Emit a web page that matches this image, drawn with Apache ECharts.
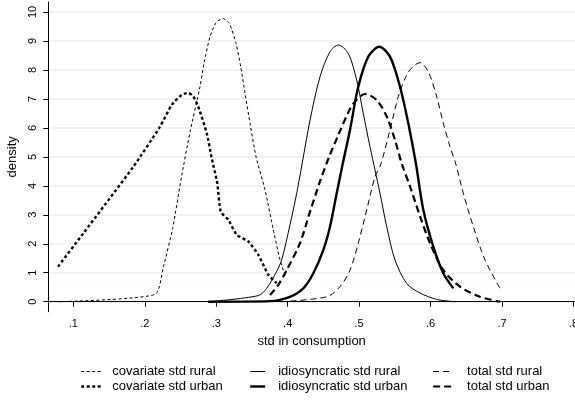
<!DOCTYPE html>
<html>
<head>
<meta charset="utf-8">
<script src="https://cdn.jsdelivr.net/npm/echarts@6/dist/echarts.min.js"></script>
<style>html,body{margin:0;padding:0;background:#fff;}#c{width:575px;height:407px;}</style>
</head>
<body>
<div id="c"></div>
<script>
const xTickValues = [0.1, 0.2, 0.3, 0.4, 0.5, 0.6, 0.7, 0.8];
const xTickLabels = ['.1', '.2', '.3', '.4', '.5', '.6', '.7', '.8'];
const yTickValues = [0, 1, 2, 3, 4, 5, 6, 7, 8, 9, 10];
const yTickLabels = ['0', '1', '2', '3', '4', '5', '6', '7', '8', '9', '10'];

const seriesNames = ['covariate std rural', 'idiosyncratic std rural', 'total std rural',
                     'covariate std urban', 'idiosyncratic std urban', 'total std urban'];

const covariateRural = [[0.0786,0],[0.2143,0.25],[0.226,1.2],[0.239,2.53],[0.2517,4.35],[0.2633,5.85],[0.2773,7.42],[0.2829,8.23],[0.2913,9.15],[0.2997,9.63],[0.3091,9.78],[0.3183,9.61],[0.3277,8.92],[0.3343,8.11],[0.3403,7.19],[0.3473,6.16],[0.3557,5.0],[0.3683,3.86],[0.3799,2.48],[0.3893,1.44],[0.3977,0.81]];
const covariateUrban = [[0.0786,1.21],[0.114,2.36],[0.184,4.66],[0.2213,6.04],[0.2377,6.79],[0.2517,7.14],[0.261,7.21],[0.268,7.08],[0.2749,6.73],[0.2867,5.82],[0.2937,4.95],[0.3015,4.09],[0.3063,3.11],[0.3169,2.83],[0.3287,2.31],[0.3449,2.08],[0.3589,1.62],[0.3729,0.93],[0.3846,0.64]];
const idiosyncraticRural = [[0.2888,0],[0.3589,0.21],[0.3706,0.46],[0.3846,1.05],[0.3916,1.44],[0.4032,2.65],[0.4126,3.74],[0.4205,4.8],[0.4313,6.27],[0.4453,7.77],[0.4593,8.63],[0.4708,8.86],[0.4848,8.57],[0.4966,7.65],[0.5058,6.5],[0.5152,5.35],[0.5222,4.55],[0.5292,3.74],[0.5386,2.59],[0.5502,1.44],[0.5666,0.63],[0.5852,0.3],[0.6085,0.08],[0.6341,0]];
const idiosyncraticUrban = [[0.2888,0],[0.3753,0.02],[0.4032,0.17],[0.4219,0.46],[0.4359,0.98],[0.4498,1.78],[0.4592,2.59],[0.4686,3.74],[0.4767,4.72],[0.4872,5.93],[0.4988,7.42],[0.5128,8.46],[0.5282,8.8],[0.5432,8.46],[0.5572,7.42],[0.5688,6.16],[0.5794,4.78],[0.5898,3.17],[0.6038,1.9],[0.6178,0.98],[0.6318,0.46]];
const totalRural = [[0.39,0],[0.4546,0.17],[0.4732,0.52],[0.4872,1.09],[0.4988,2.02],[0.5106,3.17],[0.5222,4.31],[0.53,4.72],[0.5432,5.93],[0.5548,7.08],[0.5666,7.83],[0.5756,8.12],[0.5852,8.25],[0.5968,7.94],[0.6085,7.08],[0.6178,6.16],[0.6272,5.35],[0.6353,4.75],[0.6458,3.74],[0.6598,2.59],[0.6762,1.44],[0.6972,0.46]];
const totalUrban = [[0.3753,0.23],[0.3869,0.58],[0.3986,1.09],[0.4172,2.02],[0.4312,3.1],[0.4452,4.15],[0.458,5.0],[0.4708,5.75],[0.4872,6.65],[0.4975,7.0],[0.5082,7.17],[0.5246,6.96],[0.5386,6.39],[0.5502,5.58],[0.5595,4.78],[0.5713,3.97],[0.5852,2.95],[0.5992,2.02],[0.6178,1.09],[0.6411,0.52],[0.6691,0.17],[0.6972,0]];

const FONT = 'Liberation Sans';
const chart = echarts.init(document.getElementById('c'), null, {renderer: 'canvas'});

function mk(name, data, width, dash, smooth) {
  return {
    name: name, type: 'line', data: data, symbol: 'none', smooth: smooth,
    lineStyle: {color: '#000', width: width, type: dash, cap: 'butt'},
    itemStyle: {color: '#000'},
    emphasis: {disabled: true}, animation: false, z: 3
  };
}

function legendCol(left, names, iconW, textPad) {
  return {
    left: left, top: 365, orient: 'vertical', itemGap: 2, padding: 0,
    itemWidth: iconW, itemHeight: 13, data: names,
    selectedMode: false,
    itemStyle: {opacity: 0, borderWidth: 0},
    lineStyle: {color: 'inherit', width: 'inherit', type: 'inherit'},
    textStyle: {fontFamily: FONT, fontSize: 13, color: '#000', padding: [0, 0, 0, textPad]}
  };
}

chart.setOption({
  animation: false,
  backgroundColor: '#fff',
  grid: {left: 48.3, right: 0, top: 2, bottom: 95.3, containLabel: false, outerBoundsMode: 'none'},
  xAxis: {
    type: 'value', min: 0.065, max: 0.8021,
    name: 'std in consumption', nameLocation: 'middle', nameGap: 23,
    nameTextStyle: {fontFamily: FONT, fontSize: 13, color: '#000'},
    axisLine: {show: true, lineStyle: {color: '#000', width: 1}},
    axisTick: {show: true, length: 5, inside: false, customValues: xTickValues, lineStyle: {color: '#000'}},
    axisLabel: {customValues: xTickValues, fontFamily: FONT, fontSize: 11, color: '#000', margin: 7,
      formatter: v => xTickLabels[xTickValues.findIndex(t => Math.abs(t - v) < 1e-6)]},
    splitLine: {show: false}
  },
  yAxis: {
    type: 'value', min: -0.345, max: 10.345,
    name: 'density', nameLocation: 'middle', nameGap: 24, nameRotate: 90,
    nameTextStyle: {fontFamily: FONT, fontSize: 13, color: '#000'},
    axisLine: {show: true, lineStyle: {color: '#000', width: 1}},
    axisTick: {show: true, length: 5, inside: false, customValues: yTickValues, lineStyle: {color: '#000'}},
    axisLabel: {customValues: yTickValues, rotate: 90, fontFamily: FONT, fontSize: 11, color: '#000', margin: 10,
      formatter: v => yTickLabels[yTickValues.findIndex(t => Math.abs(t - v) < 1e-6)]},
    splitLine: {show: true, lineStyle: {color: '#e8f0f1', width: 1.5}}
  },
  legend: [
    legendCol(80, [seriesNames[0], seriesNames[3]], 22, 4),
    legendCol(249, [seriesNames[1], seriesNames[4]], 15, 8),
    legendCol(432, [seriesNames[2], seriesNames[5]], 19, 10)
  ],
  series: [
    mk(seriesNames[0], covariateRural, 1, [3, 2.5], 0.2),
    mk(seriesNames[1], idiosyncraticRural, 1, 'solid', 0.3),
    mk(seriesNames[2], totalRural, 1, [6, 4], 0.3),
    mk(seriesNames[3], covariateUrban, 2.4, [3, 2.5], 0.2),
    mk(seriesNames[4], idiosyncraticUrban, 2.4, 'solid', 0.3),
    mk(seriesNames[5], totalUrban, 2.2, [7, 4], 0.3)
  ]
});
</script>
</body>
</html>
